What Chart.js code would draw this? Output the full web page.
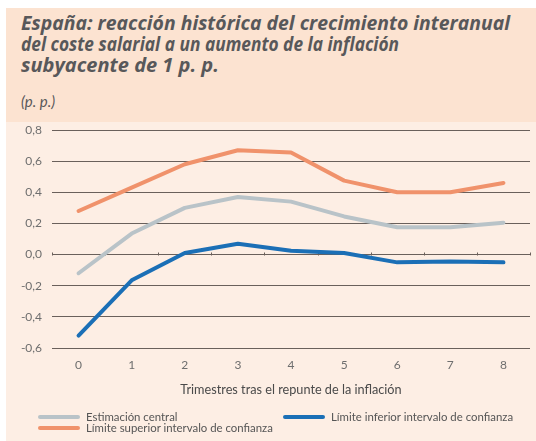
<!DOCTYPE html>
<html>
<head>
<meta charset="utf-8">
<script src="https://cdn.jsdelivr.net/npm/chart.js@4/dist/chart.umd.min.js"></script>
<style>
  html, body { margin: 0; padding: 0; background: #fff; }
  #wrap { position: relative; width: 536px; height: 441px; overflow: hidden; }
  #band { position: absolute; left: 6px; top: 8px; width: 530px; height: 114px; background: #fce3d1; }
  #panel { position: absolute; left: 6px; top: 122px; width: 530px; height: 319px; background: #fdeee4; }
  #title { position: absolute; left: 21px; top: 12px; font: bold italic 20px "Open Sans", sans-serif;
           color: #58585a; line-height: 21px; white-space: nowrap; }
  #title span { display: inline-block; transform-origin: 0 0; }
  #unit { position: absolute; left: 21px; top: 92px; font: italic 15px "Lato", sans-serif; color: #58585a; }
  canvas { position: absolute; left: 0; top: 0; }
  #legend { position: absolute; left: 0; top: 0; font: 11.4px "Lato", sans-serif; color: #555; }
  .item { position: absolute; white-space: nowrap; line-height: 12px; }
  .sw { display: inline-block; width: 42px; height: 4px; border-radius: 2px; vertical-align: middle; margin-right: 6px; position: relative; top: -1px; }
</style>
</head>
<body>
<div id="wrap">
  <div id="band"></div>
  <div id="panel"></div>
  <div id="title"></div>
  <div id="unit">(p. p.)</div>
  <canvas id="c" width="536" height="441"></canvas>
  <div id="legend"></div>
</div>
<script>
// trimestres tras el repunte
const quarters = ["0", "1", "2", "3", "4", "5", "6", "7", "8"];
const central = [-0.12, 0.135, 0.30, 0.37, 0.34, 0.245, 0.175, 0.175, 0.205];
const upper = [0.28, 0.43, 0.58, 0.67, 0.655, 0.475, 0.40, 0.40, 0.46];
const lower = [-0.52, -0.165, 0.01, 0.07, 0.025, 0.01, -0.05, -0.045, -0.05];
const seriesNames = ["Estimación central", "Límite inferior intervalo de confianza", "Límite superior intervalo de confianza"];
const seriesColors = ["#b9c3c8", "#1b6fb6", "#f0926b"];

const titleLines = ["España: reacción histórica del crecimiento interanual", "del coste salarial a un aumento de la inflación", "subyacente de 1 p. p."];
const titleWidths = [489, 378, 213]; // widths of the condensed face in the original

const gridColor = "#6a605b";

// title: squeeze lines that run wider than the original
const titleEl = document.getElementById("title");
titleLines.forEach((txt, i) => {
  const s = document.createElement("span");
  s.textContent = txt;
  titleEl.appendChild(s);
  titleEl.appendChild(document.createElement("br"));
  const w = s.getBoundingClientRect().width;
  if (w > titleWidths[i]) s.style.transform = "scaleX(" + (titleWidths[i] / w) + ")";
});

// small tick marks on the zero line, between categories
const zeroTicks = {
  id: "zeroTicks",
  beforeDatasetsDraw(chart) {
    const x = chart.scales.x, y = chart.scales.y;
    const y0 = Math.round(y.getPixelForValue(0)) + 0.5;
    const ctx = chart.ctx;
    ctx.save();
    ctx.strokeStyle = gridColor;
    ctx.lineWidth = 1;
    ctx.beginPath();
    for (let i = 0; i <= quarters.length; i++) {
      const px = Math.round(x.getPixelForValue(i - 0.5)) + 0.5;
      ctx.moveTo(px, y0);
      ctx.lineTo(px, y0 - 3);
    }
    ctx.stroke();
    ctx.restore();
  }
};

new Chart(document.getElementById("c"), {
  type: "line",
  data: {
    labels: quarters,
    datasets: [
      { label: seriesNames[2], data: upper, borderColor: seriesColors[2] },
      { label: seriesNames[0], data: central, borderColor: seriesColors[0] },
      { label: seriesNames[1], data: lower, borderColor: seriesColors[1] }
    ]
  },
  options: {
    responsive: false,
    animation: false,
    elements: {
      line: { borderWidth: 4, tension: 0, borderJoinStyle: "round", borderCapStyle: "round" },
      point: { radius: 0 }
    },
    layout: { padding: { top: 130, right: 6, bottom: 33, left: 0 } },
    plugins: { legend: { display: false }, tooltip: { enabled: false } },
    scales: {
      x: {
        offset: true,
        grid: { display: false, drawTicks: false },
        border: { display: false },
        ticks: { color: "#6e6e6e", font: { family: "Lato", size: 12 }, padding: 10 },
        title: {
          display: true,
          text: "Trimestres tras el repunte de la inflación",
          color: "#4a4a4a",
          font: { family: "Lato", size: 12.7 },
          padding: { top: 0, bottom: 10 }
        },
        afterFit(s) { s.height = 60; }
      },
      y: {
        min: -0.6,
        max: 0.8,
        grid: { color: gridColor, drawTicks: false, lineWidth: 1 },
        border: { display: false },
        ticks: {
          stepSize: 0.2,
          color: "#6e6e6e",
          font: { family: "Lato", size: 12 },
          padding: 10,
          callback: v => v.toFixed(1).replace(".", ",")
        },
        afterFit(s) { s.width = 52; }
      }
    }
  },
  plugins: [zeroTicks]
});

// legend laid out like the original
const legendPos = [[38, 411], [283, 411], [38, 422]];
const legend = document.getElementById("legend");
seriesNames.forEach((name, i) => {
  const d = document.createElement("div");
  d.className = "item";
  d.style.left = legendPos[i][0] + "px";
  d.style.top = legendPos[i][1] + "px";
  d.innerHTML = '<span class="sw" style="background:' + seriesColors[i] + '"></span>' + name;
  legend.appendChild(d);
});
</script>
</body>
</html>
